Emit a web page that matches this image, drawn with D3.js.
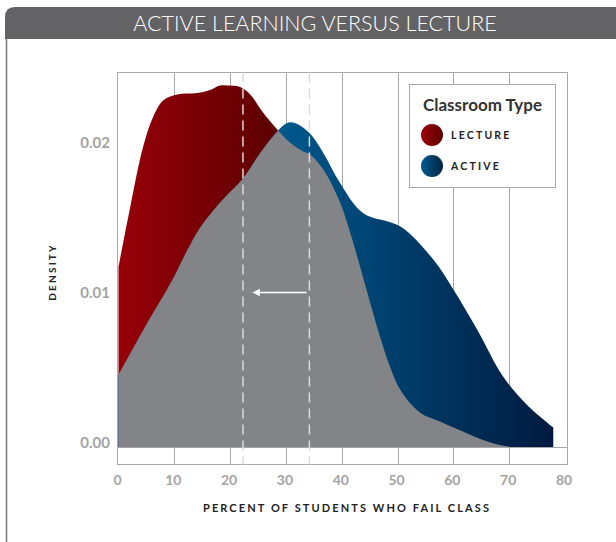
<!DOCTYPE html>
<html><head><meta charset="utf-8">
<script src="https://cdn.jsdelivr.net/npm/d3@7/dist/d3.min.js"></script>
<style>
html,body{margin:0;padding:0;background:#fff;}
svg{display:block;font-family:Lato,"Open Sans",sans-serif;}
</style></head>
<body>
<svg id="c" width="616" height="542"></svg>
<script>
const titleText = "ACTIVE LEARNING VERSUS LECTURE";
const xTicks = [0,10,20,30,40,50,60,70,80];
const yTicks = [0.00,0.01,0.02];
const lectureX = [0,2.1,4.4,6.2,8.0,10.5,14.1,16.4,18.2,20.0,21.8,23.6,25.9,28.6,30.7,33.1,34.3,36.7,39.7,41.5,43.3,45.1,46.9,48.7,50.5,54.0,57.6,62.5,66.6,70.2];
const lectureY = [0.0120,0.0160,0.0200,0.0220,0.0231,0.0235,0.0236,0.0238,0.0241,0.0241,0.0240,0.0235,0.0223,0.0211,0.0203,0.0197,0.0195,0.0185,0.0163,0.0143,0.0120,0.0096,0.0073,0.0053,0.0038,0.0023,0.0017,0.0009,0.0003,0.0000];
const activeX = [0,4.75,9.6,12.3,14.6,18.2,22.3,25.4,28.6,30.2,31.6,34.3,36.7,39.7,43.8,50.5,56.4,60.0,64.3,68.9,73.2,77.9];
const activeY = [0.0048,0.0080,0.0111,0.0131,0.0146,0.0163,0.0179,0.0196,0.0211,0.0216,0.0216,0.0209,0.0196,0.0176,0.0156,0.0147,0.0125,0.0105,0.0078,0.0047,0.0028,0.0013];
const medians = [22.3, 34.2];
const arrowX = [33.7, 24.3];
const arrowY = 0.0103;
const legendNames = ["LECTURE","ACTIVE"];

const svg = d3.select("#c");
const defs = svg.append("defs");

// panel & title bar
svg.append("line").attr("x1",6.5).attr("x2",6.5).attr("y1",36).attr("y2",542).attr("stroke","#7a7a7a").attr("stroke-width",1.5);
svg.append("path").attr("d","M5,39 L5,17 Q5,7 15,7 L616,7 L616,39 Z").attr("fill","#636365");
svg.append("text").attr("x",315).attr("y",31).attr("text-anchor","middle").attr("fill","#fff")
  .attr("font-size",21.5).attr("font-weight",300).text(titleText);

const L=117.5, R=567.5, T=72.5, B=464.5;
const x = d3.scaleLinear().domain([0,80]).range([118.5,565]);
const y = d3.scaleLinear().domain([0,0.02]).range([447,147]);

// frame & grid
svg.append("rect").attr("x",L).attr("y",T).attr("width",R-L).attr("height",B-T).attr("fill","none").attr("stroke","#a8a8a8").attr("stroke-width",1);
svg.append("g").selectAll("line").data(xTicks.filter(d=>d>0&&d<80)).join("line")
  .attr("x1",d=>Math.round(x(d))+0.5).attr("x2",d=>Math.round(x(d))+0.5).attr("y1",T).attr("y2",B)
  .attr("stroke","#a8a8a8").attr("stroke-width",1);
svg.append("line").attr("x1",L).attr("x2",R).attr("y1",y(0)+0.5).attr("y2",y(0)+0.5).attr("stroke","#a8a8a8");

// gradients
function lg(id, x1, x2, c1, c2, units){
  const g = defs.append("linearGradient").attr("id",id);
  if(units){ g.attr("gradientUnits","userSpaceOnUse").attr("x1",x1).attr("x2",x2).attr("y1",0).attr("y2",0); }
  g.append("stop").attr("offset","0%").attr("stop-color",c1);
  g.append("stop").attr("offset","100%").attr("stop-color",c2);
}
lg("gRed", x(0), x(29), "#980008", "#5a0001", true);
lg("gBlue", x(29), x(78), "#00598d", "#001a3e", true);
lg("gRedC", 0, 0, "#9c000a", "#5c0000", false);
lg("gBlueC", 0, 0, "#005a90", "#00223f", false);

const lecture = lectureX.map((v,i)=>[v,lectureY[i]]);
const active = activeX.map((v,i)=>[v,activeY[i]]);
const area = d3.area().x(d=>x(d[0])).y0(y(0)).y1(d=>y(d[1])).curve(d3.curveCatmullRom.alpha(0.5));

defs.append("clipPath").attr("id","clipLect").append("path").attr("d",area(lecture));

svg.append("path").attr("d",area(lecture)).attr("fill","url(#gRed)");
svg.append("path").attr("d",area(active)).attr("fill","url(#gBlue)");
svg.append("path").attr("d",area(active)).attr("fill","#838488").attr("clip-path","url(#clipLect)");

// dashed median lines
svg.append("g").selectAll("line").data(medians).join("line")
  .attr("x1",d=>x(d)).attr("x2",d=>x(d)).attr("y1",T).attr("y2",B)
  .attr("stroke","#dcdcdc").attr("stroke-width",1.5).attr("stroke-dasharray","10,6");

// arrow
defs.append("marker").attr("id","ah").attr("viewBox","0 0 10 10").attr("refX",1).attr("refY",5)
  .attr("markerWidth",5).attr("markerHeight",5).attr("orient","auto")
  .append("path").attr("d","M0,0 L10,5 L0,10 Z").attr("fill","#fff");
svg.append("line").attr("x1",x(arrowX[0])).attr("x2",x(arrowX[1])+5).attr("y1",y(arrowY)).attr("y2",y(arrowY))
  .attr("stroke","#fff").attr("stroke-width",1.5).attr("marker-end","url(#ah)");

// axis labels
svg.append("g").selectAll("text").data(xTicks).join("text")
  .attr("x",d=>x(d)-1).attr("y",485).attr("text-anchor","middle").attr("fill","#a3a3a3")
  .attr("font-size",14).attr("font-weight",700).text(d=>d);
svg.append("g").selectAll("text").data(yTicks).join("text")
  .attr("x",110).attr("y",d=>y(d)+1).attr("text-anchor","end").attr("fill","#a3a3a3")
  .attr("font-size",15).attr("font-weight",700).text(d=>d.toFixed(2));
svg.append("text").attr("x",347).attr("y",512).attr("text-anchor","middle").attr("fill","#222")
  .attr("font-size",11).attr("font-weight",700).attr("letter-spacing",2.1).text("PERCENT OF STUDENTS WHO FAIL CLASS");
svg.append("text").attr("transform","translate(56,272) rotate(-90)").attr("text-anchor","middle").attr("fill","#222")
  .attr("font-size",10).attr("font-weight",700).attr("letter-spacing",2.2).text("DENSITY");

// legend
const lgG = svg.append("g");
lgG.append("rect").attr("x",409.5).attr("y",84.5).attr("width",146).attr("height",103).attr("fill","#fff").attr("stroke","#a8a8a8");
lgG.append("text").attr("x",423).attr("y",111).attr("fill","#333").attr("font-size",17).attr("font-weight",700).text("Classroom Type");
const items = lgG.selectAll("g.it").data(legendNames).join("g").attr("transform",(d,i)=>`translate(0,${135+i*31})`);
items.append("circle").attr("cx",432).attr("cy",0).attr("r",11).attr("fill",(d,i)=>i===0?"url(#gRedC)":"url(#gBlueC)");
items.append("text").attr("x",451).attr("y",4).attr("fill","#222").attr("font-size",10.5).attr("font-weight",700)
  .attr("letter-spacing",2.2).text(d=>d);
</script>
</body></html>
